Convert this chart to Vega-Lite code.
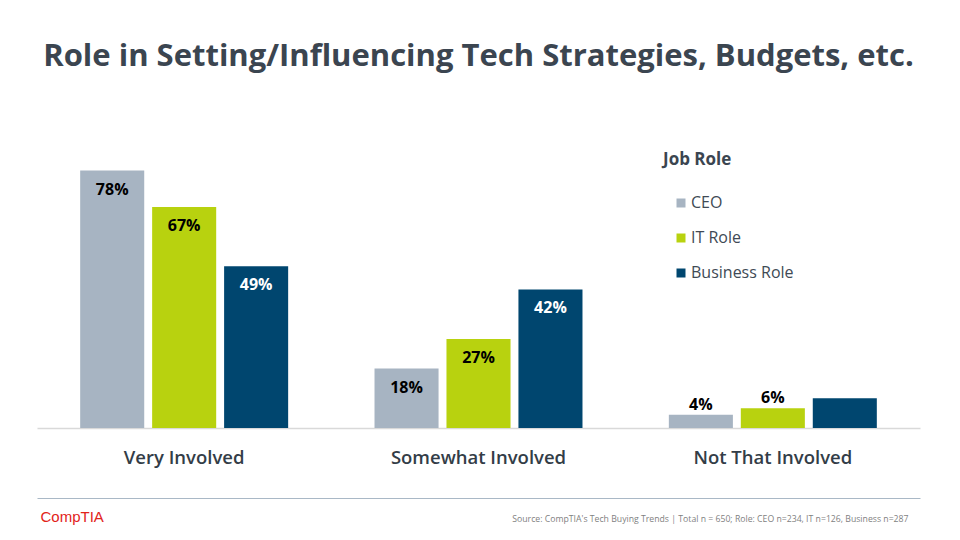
{
  "$schema": "https://vega.github.io/schema/vega-lite/v6.json",
  "width": 883,
  "height": 330,
  "autosize": {"type": "none"},
  "padding": {"left": 37, "top": 98, "right": 40, "bottom": 112},
  "background": "white",
  "config": {"view": {"stroke": null}},
  "title": {
    "text": "Role in Setting/Influencing Tech Strategies, Budgets, etc.",
    "anchor": "middle",
    "frame": "group",
    "offset": 25,
    "font": "Open Sans",
    "fontSize": 31,
    "fontWeight": 700,
    "color": "#3b4550"
  },
  "data": {
    "values": [
      {"category": "Very Involved", "role": "CEO", "value": 78, "label": "78%"},
      {"category": "Very Involved", "role": "IT Role", "value": 67, "label": "67%"},
      {"category": "Very Involved", "role": "Business Role", "value": 49, "label": "49%"},
      {"category": "Somewhat Involved", "role": "CEO", "value": 18, "label": "18%"},
      {"category": "Somewhat Involved", "role": "IT Role", "value": 27, "label": "27%"},
      {"category": "Somewhat Involved", "role": "Business Role", "value": 42, "label": "42%"},
      {"category": "Not That Involved", "role": "CEO", "value": 4, "label": "4%"},
      {"category": "Not That Involved", "role": "IT Role", "value": 6, "label": "6%"},
      {"category": "Not That Involved", "role": "Business Role", "value": 9, "label": ""}
    ]
  },
  "resolve": {"axis": {"x": "independent", "y": "independent"}},
  "layer": [
    {
      "mark": {"type": "bar"},
      "encoding": {
        "x": {
          "field": "category", "type": "nominal", "sort": null,
          "scale": {"paddingInner": 0, "paddingOuter": 0},
          "axis": {
            "title": null, "ticks": false, "labelAngle": 0,
            "domainColor": "#d9d9d9", "domainWidth": 1.5,
            "labelFont": "Open Sans", "labelFontSize": 18.5, "labelFontWeight": 600,
            "labelColor": "#333d47", "labelPadding": 20
          }
        },
        "xOffset": {
          "field": "role", "type": "nominal",
          "sort": ["CEO", "IT Role", "Business Role"],
          "scale": {"paddingInner": 0.11, "paddingOuter": 0.6}
        },
        "y": {
          "field": "value", "type": "quantitative",
          "scale": {"domain": [0, 100]},
          "axis": {
            "labels": false, "ticks": false, "domain": false, "grid": false,
            "title": "CompTIA", "titleAngle": 0, "titleX": 3, "titleY": 418,
            "titleAlign": "left", "titleBaseline": "middle",
            "titleColor": "#e2231a", "titleFont": "Liberation Sans",
            "titleFontSize": 15, "titleFontWeight": "normal"
          }
        },
        "color": {
          "field": "role", "type": "nominal",
          "sort": ["CEO", "IT Role", "Business Role"],
          "scale": {"domain": ["CEO", "IT Role", "Business Role"], "range": ["#a7b4c2", "#b8d20f", "#00466f"]},
          "legend": {
            "title": "Job Role", "orient": "none", "legendX": 626, "legendY": 54,
            "titleFont": "Open Sans", "titleFontSize": 17, "titleFontWeight": 700,
            "titleColor": "#3b4550", "titlePadding": 26,
            "symbolType": "square", "symbolSize": 81, "symbolStrokeWidth": 0,
            "symbolOffset": 10, "labelFont": "Open Sans", "labelFontSize": 16,
            "labelColor": "#404a55", "labelOffset": 2, "rowPadding": 19
          }
        }
      }
    },
    {
      "transform": [{"filter": "datum.value >= 10"}],
      "mark": {"type": "text", "baseline": "middle", "dy": 19, "font": "Open Sans", "fontSize": 16, "fontWeight": 700},
      "encoding": {
        "x": {
          "field": "category", "type": "nominal", "sort": null,
          "axis": {
            "orient": "bottom", "offset": 70, "labels": false, "ticks": false,
            "domainColor": "#a9b8c6", "domainWidth": 1,
            "title": "Source: CompTIA's Tech Buying Trends | Total n = 650; Role:  CEO n=234, IT n=126, Business n=287",
            "titleX": 871, "titleAlign": "right", "titlePadding": 16,
            "titleFont": "Open Sans", "titleFontSize": 8.7, "titleFontWeight": "normal",
            "titleColor": "#7f7f7f"
          }
        },
        "xOffset": {"field": "role", "type": "nominal", "sort": ["CEO", "IT Role", "Business Role"]},
        "y": {"field": "value", "type": "quantitative", "axis": null},
        "text": {"field": "label"},
        "color": {
          "condition": {"test": "datum.role === 'Business Role'", "value": "#ffffff"},
          "value": "#000000"
        }
      }
    },
    {
      "transform": [{"filter": "datum.value < 10"}],
      "mark": {"type": "text", "baseline": "middle", "dy": -10, "font": "Open Sans", "fontSize": 16, "fontWeight": 700, "color": "#000000"},
      "encoding": {
        "x": {"field": "category", "type": "nominal", "sort": null, "axis": null},
        "xOffset": {"field": "role", "type": "nominal", "sort": ["CEO", "IT Role", "Business Role"]},
        "y": {"field": "value", "type": "quantitative", "axis": null},
        "text": {"field": "label"}
      }
    }
  ]
}
